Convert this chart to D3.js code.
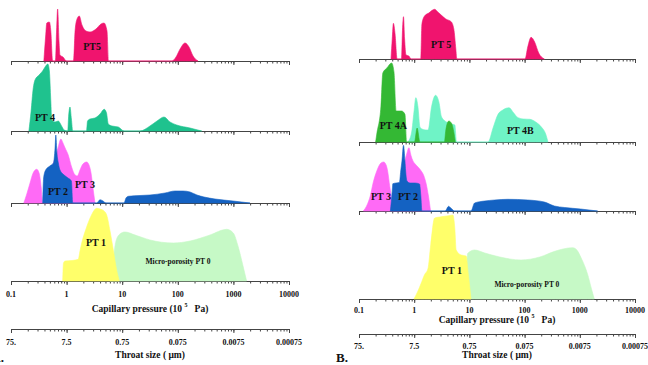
<!DOCTYPE html>
<html lang="en">
<head>
<meta charset="utf-8">
<title>Pore throat types</title>
<script src="https://cdn.jsdelivr.net/npm/d3@7"></script>
<style>
  body { margin: 0; background: white; }
  text { font-family: "Liberation Serif", "Times New Roman", serif; font-weight: bold; fill: #111; }
</style>
</head>
<body>
<script>

// tick values / labels
var capTicks = [0.1, 1, 10, 100, 1000, 10000];
var capTickLabels = ["0.1", "1", "10", "100", "1000", "10000"];
var throatTicks = [75, 7.5, 0.75, 0.075, 0.0075, 0.00075];
var throatTickLabels = ["75.", "7.5", "0.75", "0.075", "0.0075", "0.00075"];

// [capillary pressure (10^5 Pa), relative frequency] -- panel A
var a_pt5 = [[0.39,0],[0.42,2.5],[0.44,3.8],[0.49,3.9],[0.52,3.0],[0.56,0],[0.63,0],[0.66,3.0],[0.69,5.2],[0.73,2.0],[0.76,0.6],[0.86,0.4],[1.0,0],[1.33,0],[1.42,3.0],[1.54,4.2],[1.69,4.5],[1.89,3.6],[2.23,3.0],[2.64,2.9],[3.38,3.2],[4.16,3.7],[4.71,3.8],[5.33,3.0],[5.67,0],[78.7,0],[92.9,0.4],[110,1.2],[135,1.8],[159,1.4],[188,0.5],[231,0]];
var a_pt4 = [[0.21,0],[0.23,2.0],[0.25,4.2],[0.27,5.1],[0.32,5.6],[0.37,6.0],[0.41,6.4],[0.46,6.7],[0.49,6.0],[0.52,3.0],[0.54,1.1],[0.62,0.9],[0.71,1.0],[0.76,0.8],[0.85,0.3],[0.9,0.1],[1.05,0],[1.08,1.2],[1.15,2.4],[1.22,1.2],[1.29,0],[2.28,0],[2.38,1.0],[2.64,1.2],[3.24,1.3],[3.99,1.7],[4.76,2.17],[5.22,1.8],[5.62,0.7],[6.56,0.5],[8.51,0.4],[10.8,0],[20.9,0],[31.6,0.5],[42.3,1.0],[56.5,1.4],[72.4,0.9],[95.5,0.6],[166,0.3],[269,0]];
var a_pt3 = [[0.17,0],[0.19,0.8],[0.22,2.0],[0.25,3.0],[0.29,3.37],[0.32,3.0],[0.35,1.5],[0.37,0],[0.39,1.0],[0.5,3.0],[0.62,4.5],[0.7,5.5],[0.79,6.4],[0.86,6.0],[0.94,5.5],[1.07,4.8],[1.23,3.6],[1.42,2.8],[1.56,2.7],[1.74,3.3],[1.97,3.9],[2.3,4.1],[2.53,3.8],[2.75,3.0],[2.98,1.5],[3.24,0]];
var a_pt2 = [[0.372,0],[0.386,2.5],[0.42,3.3],[0.5,3.7],[0.58,4.0],[0.62,5.5],[0.64,6.8],[0.67,5.0],[0.71,4.0],[0.76,3.3],[0.9,2.8],[1.06,2.5],[1.22,2.2],[1.29,0],[3.48,0],[3.99,0.33],[4.51,0.2],[5.11,0],[10.8,0],[11.7,0.5],[12.9,0.67],[20.9,0.75],[31.6,0.8],[58.9,1.0],[89.1,1.2],[124,1.2],[166,1.1],[221,0.8],[296,0.6],[467,0.4],[984,0.2],[1990,0]];
var a_pt0 = [[6.04,0],[6.83,2.0],[7.73,4.0],[9.12,4.7],[11.2,4.9],[17.0,4.6],[31.6,4.1],[83.0,3.8],[166,4.0],[379,4.6],[757,5.17],[995,4.8],[1210,3.5],[1490,1.5],[1730,0]];
var a_pt1 = [[0.85,0],[0.88,1.8],[0.94,2.0],[1.25,2.05],[1.62,2.17],[1.74,3.0],[1.87,3.8],[2.23,5.2],[2.75,6.5],[3.48,7.27],[3.99,7.2],[4.71,7.0],[5.26,6.6],[6.04,5.0],[6.92,3.1],[7.89,1.2],[8.87,0]];

// panel B
var b_pt5 = [[0.38,0],[0.40,2.0],[0.42,3.57],[0.45,2.5],[0.49,0],[0.59,0],[0.61,2.5],[0.64,4.23],[0.67,2.0],[0.71,0.4],[0.80,0.3],[0.88,0],[1.31,0],[1.38,3.5],[1.54,4.3],[1.84,4.6],[2.34,4.97],[2.68,4.7],[3.08,4.4],[3.74,4.0],[4.67,3.73],[5.22,3.0],[5.68,1.0],[5.92,0],[102,0],[114,1.2],[131,2.17],[152,1.7],[180,0.6],[228,0]];
var b_pt4b = [[0.77,0],[0.90,1.0],[0.99,3.0],[1.07,4.43],[1.17,3.5],[1.27,1.5],[1.38,1.3],[1.63,1.2],[1.79,1.2],[2.06,3.5],[2.44,4.67],[2.80,4.0],[3.13,2.5],[3.85,2.0],[4.81,1.8],[5.45,1.7],[5.84,0],[21.8,0],[26.8,1.4],[33.0,2.77],[40.2,3.2],[52.2,3.43],[63.5,2.9],[76.0,2.43],[96.3,2.3],[124,2.27],[159,2.0],[201,1.5],[241,0.8],[265,0]];
var b_pt4a = [[0.20,0],[0.21,0.8],[0.25,3.6],[0.27,6.9],[0.32,7.4],[0.39,7.9],[0.43,7.0],[0.47,3.1],[0.53,3.1],[0.59,3.1],[0.68,2.77],[0.73,0],[1.01,0],[1.13,1.4],[1.27,0],[3.52,0],[3.74,1.2],[4.24,2.1],[4.81,1.8],[5.22,1.0],[5.56,0]];
var b_pt3 = [[0.12,0],[0.14,0.6],[0.16,1.5],[0.18,2.8],[0.21,4.0],[0.25,4.8],[0.28,4.9],[0.31,4.6],[0.33,4.0],[0.36,2.5],[0.40,1.0],[0.45,0.5],[0.55,2.0],[0.65,4.5],[0.74,5.8],[0.80,6.33],[0.88,5.5],[0.95,5.0],[1.04,4.7],[1.17,4.4],[1.34,4.0],[1.50,3.5],[1.65,2.7],[1.81,1.5],[1.98,0]];
var b_pt2 = [[0.37,0],[0.40,2.0],[0.41,2.73],[0.47,2.8],[0.54,2.85],[0.57,4.0],[0.60,5.0],[0.64,6.57],[0.68,5.0],[0.70,4.0],[0.74,3.0],[0.84,2.8],[1.03,2.8],[1.25,2.7],[1.32,1.5],[1.38,0],[3.64,0],[4.19,0.47],[4.61,0.3],[5.38,0],[10.7,0],[12.4,0.8],[19.0,1.0],[28.8,1.1],[49.5,1.17],[114,1.1],[228,0.9],[346,0.5],[531,0.35],[1030,0.2],[2100,0]];
var b_pt0 = [[7.92,0],[8.61,2.5],[9.35,4.57],[12.4,4.9],[19.0,4.6],[35.5,4.2],[86.1,3.9],[188,4.2],[365,4.8],[741,5.13],[851,5.0],[1080,4.0],[1380,2.5],[1630,1.0],[1830,0]];
var b_pt1 = [[0.99,0],[1.17,0.8],[1.32,1.5],[1.54,2.43],[1.77,3.0],[2.00,5.5],[2.34,8.1],[2.92,8.2],[3.55,8.27],[4.42,8.35],[5.01,8.4],[5.45,7.0],[5.75,4.9],[7.08,4.4],[8.71,4.3],[9.55,2.5],[10.7,0]];

// colours
var cPT5 = "#f0146e", cPT4 = "#1fc28e", cPT4A = "#34b834", cPT4B = "#6ff3c6",
    cPT3 = "#ff6af6", cPT2 = "#1462c2", cPT1 = "#ffff6a", cPT0 = "#c6f9c6";

var svg = d3.select("body").append("svg")
            .attr("width", 648)
            .attr("height", 365);

var panels = [
  {
    x0: 11, x1: 289, tickLabelY: 13, titleY: 28, throatY: 48, throatLabelY: 13, throatTitleY: 26,
    rows: [
      { base: 61, series: [[a_pt5, cPT5]], labels: [["PT5", 2.87, 1.43, 10]] },
      { base: 131, series: [[a_pt4, cPT4]], labels: [["PT 4", 0.41, 1.4, 10]] },
      { base: 203, series: [[a_pt3, cPT3], [a_pt2, cPT2]], labels: [["PT 2", 0.70, 1.13, 10], ["PT 3", 2.14, 1.9, 10]] },
      { base: 281, series: [[a_pt0, cPT0], [a_pt1, cPT1]], labels: [["PT 1", 3.38, 3.83, 10], ["Micro-porosity PT 0", 101, 2.0, 7.5]] }
    ]
  },
  {
    x0: 359, x1: 635, tickLabelY: 11.5, titleY: 21, throatY: 35, throatLabelY: 12, throatTitleY: 21,
    rows: [
      { base: 59, series: [[b_pt5, cPT5]], labels: [["PT 5", 3.08, 1.47, 10]] },
      { base: 142, series: [[b_pt4b, cPT4B], [b_pt4a, cPT4A]], labels: [["PT 4A", 0.42, 1.63, 10], ["PT 4B", 84, 1.17, 10]] },
      { base: 211, series: [[b_pt3, cPT3], [b_pt2, cPT2]], labels: [["PT 3", 0.25, 1.43, 10], ["PT 2", 0.77, 1.43, 10]] },
      { base: 299, series: [[b_pt0, cPT0], [b_pt1, cPT1]], labels: [["PT 1", 4.81, 2.83, 10], ["Micro-porosity PT 0", 110, 1.47, 7.5]] }
    ]
  }
];

function drawTicks(g, scale, values, size) {
  g.call(d3.axisBottom(scale).tickValues(values).tickSize(size).tickSizeOuter(0).tickFormat(""));
  g.selectAll("line").attr("stroke", "#444");
  g.select(".domain").attr("stroke", "#444");
}

panels.forEach(function(p) {
  var x = d3.scaleLog().domain([0.1, 10000]).range([p.x0, p.x1]);
  var xt = d3.scaleLog().domain([75, 0.00075]).range([p.x0, p.x1]);
  var last = p.rows[p.rows.length - 1].base;

  p.rows.forEach(function(row) {
    var y = d3.scaleLinear().domain([0, 10]).range([row.base, row.base - 100]);

    var g = svg.append("g").attr("transform", "translate(0," + row.base + ")");
    drawTicks(g, x, x.ticks(), 2.5);
    drawTicks(svg.append("g").attr("transform", "translate(0," + row.base + ")"), x, capTicks, 4);

    var area = d3.area()
                 .x(function(d) { return x(d[0]); })
                 .y0(y(0))
                 .y1(function(d) { return y(d[1]); })
                 .curve(d3.curveMonotoneX);

    row.series.forEach(function(s) {
      svg.append("path")
         .datum(s[0])
         .attr("d", area)
         .attr("fill", s[1])
         .attr("stroke", s[1])
         .attr("stroke-width", 0.6);
    });

    row.labels.forEach(function(l) {
      svg.append("text")
         .attr("x", x(l[1]))
         .attr("y", y(l[2]))
         .attr("text-anchor", "middle")
         .attr("dominant-baseline", "central")
         .style("font-size", l[3] + "px")
         .text(l[0]);
    });
  });

  // capillary pressure labels
  svg.selectAll(null)
     .data(capTicks)
     .enter()
     .append("text")
     .attr("x", function(d) { return x(d); })
     .attr("y", last + p.tickLabelY)
     .attr("text-anchor", "middle")
     .attr("dominant-baseline", "central")
     .style("font-size", "8px")
     .text(function(d, i) { return capTickLabels[i]; });

  var title = svg.append("text")
     .attr("x", (p.x0 + p.x1) / 2)
     .attr("y", last + p.titleY)
     .attr("text-anchor", "middle")
     .attr("dominant-baseline", "central")
     .style("font-size", "9.5px")
     .style("white-space", "pre");
  title.append("tspan").text("Capillary pressure (10 ");
  title.append("tspan").attr("dy", -4).style("font-size", "6px").text("5");
  title.append("tspan").attr("dy", 4).text("   Pa)");

  // throat size axis
  var ty = last + p.throatY;
  var tg = svg.append("g").attr("transform", "translate(0," + ty + ")");
  drawTicks(tg, x, x.ticks(), 2.5);
  tg.select(".domain").attr("stroke", "#111").attr("stroke-width", 1.2);
  drawTicks(svg.append("g").attr("transform", "translate(0," + ty + ")"), xt, throatTicks, 4);

  svg.selectAll(null)
     .data(throatTicks)
     .enter()
     .append("text")
     .attr("x", function(d) { return xt(d); })
     .attr("y", ty + p.throatLabelY)
     .attr("text-anchor", "middle")
     .attr("dominant-baseline", "central")
     .style("font-size", "8px")
     .text(function(d, i) { return throatTickLabels[i]; });

  svg.append("text")
     .attr("x", (p.x0 + p.x1) / 2)
     .attr("y", ty + p.throatTitleY)
     .attr("text-anchor", "middle")
     .attr("dominant-baseline", "central")
     .style("font-size", "9.5px")
     .style("white-space", "pre")
     .text("Throat size ( \u03bcm)");
});

svg.append("text").attr("x", 4).attr("y", 362).attr("text-anchor", "end")
   .style("font-size", "13px").text("A.");
svg.append("text").attr("x", 336).attr("y", 362)
   .style("font-size", "13px").text("B.");

</script>
</body>
</html>
